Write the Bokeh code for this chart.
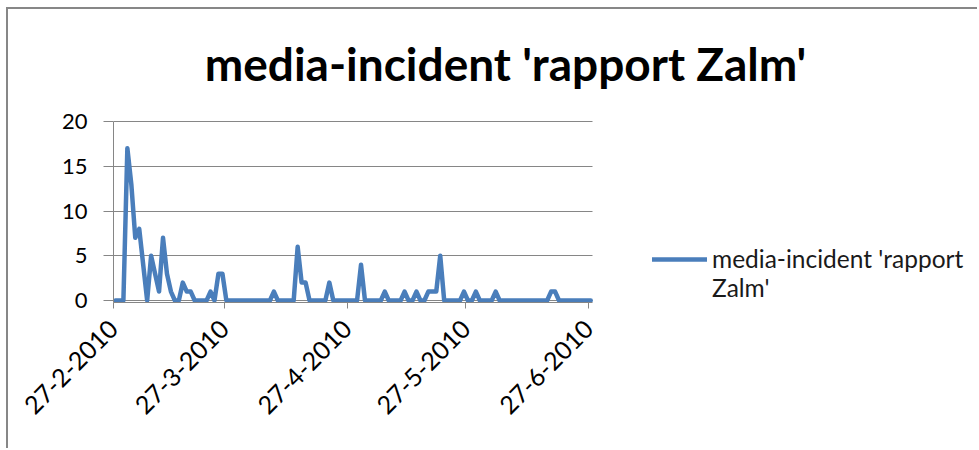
import math
import pandas as pd
from bokeh.plotting import figure
from bokeh.models import Range1d, FixedTicker, Legend, LegendItem, Label
from bokeh.embed import file_html
from bokeh.resources import INLINE

# ---------------- data ----------------
title_text = "media-incident 'rapport Zalm'"
series_name = "media-incident 'rapport Zalm'"
start_date = "27-2-2010"
# daily counts, 27-2-2010 .. 27-6-2010
counts = [
    0, 0, 0, 17, 13, 7, 8, 4, 0, 5,
    3, 1, 7, 3, 1, 0, 0, 2, 1, 1,
    0, 0, 0, 0, 1, 0, 3, 3, 0, 0,
    0, 0, 0, 0, 0, 0, 0, 0, 0, 0,
    1, 0, 0, 0, 0, 0, 6, 2, 2, 0,
    0, 0, 0, 0, 2, 0, 0, 0, 0, 0,
    0, 0, 4, 0, 0, 0, 0, 0, 1, 0,
    0, 0, 0, 1, 0, 0, 1, 0, 0, 1,
    1, 1, 5, 0, 0, 0, 0, 0, 1, 0,
    0, 1, 0, 0, 0, 0, 1, 0, 0, 0,
    0, 0, 0, 0, 0, 0, 0, 0, 0, 0,
    1, 1, 0, 0, 0, 0, 0, 0, 0, 0,
    0,
]
x_tick_labels = ["27-2-2010", "27-3-2010", "27-4-2010", "27-5-2010", "27-6-2010"]
y_ticks = [0, 5, 10, 15, 20]

# ---------------- derived ----------------
t0 = pd.to_datetime(start_date, format="%d-%m-%Y")
n_days = len(counts)
x_vals = [d + 0.5 for d in range(n_days)]  # points sit between tick marks (Excel date axis)
x_tick_pos = [int((pd.to_datetime(s, format="%d-%m-%Y") - t0).days) for s in x_tick_labels]
y_max = max(y_ticks)

name_words = series_name.split(" ")
legend_line1 = " ".join(name_words[:-1])
legend_line2 = name_words[-1]

# ---------------- layout (canvas pixels) ----------------
W, H = 971, 441                 # canvas (page has an 8px / 9px frame border offset)
LEFT, BOTTOM = 105, 148         # frame occupies the rest of the canvas
FRAME_W, FRAME_H = W - LEFT, H - BOTTOM
PLOT_W = 479.2                  # pixel width of the date span inside the frame
ZERO_PX, TOP_PX = 2.0, 181.0    # y=0 and y=y_max measured up from frame bottom
TITLE_CX, TITLE_BASE = 497, 54  # title centre x and baseline y (canvas pixels from top-left)

x_end = n_days * FRAME_W / PLOT_W
px_per_y = (TOP_PX - ZERO_PX) / y_max
y_start = -ZERO_PX / px_per_y
y_end = (FRAME_H - ZERO_PX) / px_per_y

FONT = "Lato"
LINE_COLOR = "#4A7EBB"
GRID_COLOR = "#868686"

p = figure(
    width=W, height=H,
    output_backend="svg", toolbar_location=None,
    x_range=Range1d(0, x_end), y_range=Range1d(y_start, y_end),
    min_border_left=LEFT, min_border_right=0,
    min_border_top=0, min_border_bottom=BOTTOM,
)
p.styles = {
    "margin-left": "6px", "margin-top": "7px",
    "border-left": "2px solid #878787", "border-top": "2px solid #878787",
}
p.outline_line_color = None
p.background_fill_color = "white"
p.border_fill_color = "white"

# horizontal grid restricted to the date span
grid = p.ygrid[0]
grid.ticker = FixedTicker(ticks=y_ticks)
grid.grid_line_color = GRID_COLOR
grid.grid_line_width = 1
if "cross_bounds" in type(grid).properties():
    grid.cross_bounds = (0, n_days)
else:
    grid.visible = False
    p.segment(x0=[0] * len(y_ticks), x1=[n_days] * len(y_ticks), y0=y_ticks, y1=y_ticks,
              line_color=GRID_COLOR, line_width=1)
p.xgrid.visible = False

r = p.line(x_vals, counts, line_width=4.5, line_color=LINE_COLOR,
           line_join="round", line_cap="round")
r_wrap = p.line([], [], line_alpha=0, line_width=4.5)

# y axis
yax = p.yaxis[0]
yax.ticker = FixedTicker(ticks=y_ticks)
yax.bounds = (y_start, y_max)
yax.major_tick_out = 10
yax.major_tick_in = 0
yax.minor_tick_line_color = None
yax.axis_line_color = GRID_COLOR
yax.major_tick_line_color = GRID_COLOR
yax.major_label_standoff = 16
yax.major_label_text_font = FONT
yax.major_label_text_font_size = "22px"
yax.major_label_text_color = "black"

# x axis
xax = p.xaxis[0]
xax.ticker = FixedTicker(ticks=x_tick_pos)
xax.bounds = (0, n_days)
xax.major_label_overrides = {pos: lbl for pos, lbl in zip(x_tick_pos, x_tick_labels)}
xax.major_label_orientation = math.pi / 4
xax.major_tick_out = 6
xax.major_tick_in = 0
xax.minor_tick_line_color = None
xax.axis_line_color = GRID_COLOR
xax.major_tick_line_color = GRID_COLOR
xax.major_label_standoff = 16
xax.major_label_text_font = FONT
xax.major_label_text_font_size = "25px"
xax.major_label_text_color = "black"

# title (centred over the whole chart)
title_x = (TITLE_CX - LEFT) * n_days / PLOT_W
title_y = ((FRAME_H - TITLE_BASE) - ZERO_PX) / px_per_y
p.add_layout(Label(x=title_x, y=title_y, text=title_text,
                   text_font=FONT, text_font_size="46px", text_font_style="bold",
                   text_color="black", text_align="center", text_baseline="alphabetic"))

# legend
legend = Legend(
    items=[LegendItem(label=legend_line1, renderers=[r]),
           LegendItem(label=legend_line2, renderers=[r_wrap])],
    location=(539, 0), glyph_width=55, glyph_height=20, label_standoff=5,
    label_height=29, padding=0, margin=0, spacing=0,
    border_line_color=None, background_fill_color=None, background_fill_alpha=0,
    label_text_font=FONT, label_text_font_size="24.5px", label_text_color="#1a1a1a",
)
p.add_layout(legend)

open("out.html", "w").write(file_html(p, INLINE))
